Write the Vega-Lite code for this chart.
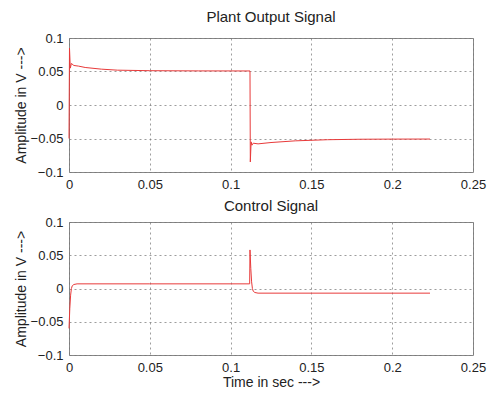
{
  "$schema": "https://vega.github.io/schema/vega-lite/v6.json",
  "padding": {"left": 13, "top": 9, "right": 10, "bottom": 5},
  "background": "white",
  "spacing": 6,
  "datasets": {
    "plant": [
      {"t": 0, "v": -0.05}, {"t": 0.0003, "v": 0.085}, {"t": 0.0008, "v": 0.055}, {"t": 0.0015, "v": 0.062},
      {"t": 0.003, "v": 0.059}, {"t": 0.006, "v": 0.058}, {"t": 0.01, "v": 0.056}, {"t": 0.02, "v": 0.0535},
      {"t": 0.03, "v": 0.052}, {"t": 0.05, "v": 0.0512}, {"t": 0.08, "v": 0.0509}, {"t": 0.112, "v": 0.0508},
      {"t": 0.1122, "v": -0.085}, {"t": 0.1127, "v": -0.055}, {"t": 0.1132, "v": -0.06}, {"t": 0.114, "v": -0.057},
      {"t": 0.117, "v": -0.058}, {"t": 0.125, "v": -0.056}, {"t": 0.14, "v": -0.0535}, {"t": 0.16, "v": -0.0518},
      {"t": 0.18, "v": -0.0511}, {"t": 0.2, "v": -0.0509}, {"t": 0.2234, "v": -0.0508}
    ],
    "control": [
      {"t": 0, "v": -0.06}, {"t": 0.0005, "v": -0.03}, {"t": 0.001, "v": -0.01}, {"t": 0.0015, "v": 0.0},
      {"t": 0.002, "v": 0.004}, {"t": 0.003, "v": 0.006}, {"t": 0.005, "v": 0.007}, {"t": 0.05, "v": 0.007},
      {"t": 0.1118, "v": 0.007}, {"t": 0.112, "v": 0.058}, {"t": 0.1125, "v": 0.03}, {"t": 0.113, "v": 0.01},
      {"t": 0.1135, "v": 0.0}, {"t": 0.114, "v": -0.004}, {"t": 0.115, "v": -0.006}, {"t": 0.117, "v": -0.007},
      {"t": 0.2234, "v": -0.007}
    ]
  },
  "config": {
    "font": "Liberation Sans",
    "view": {"stroke": "#888888", "strokeWidth": 1},
    "axis": {
      "labelFont": "Liberation Sans", "labelFontSize": 13, "labelColor": "#222", "format": "~g",
      "titleFont": "Liberation Sans", "titleFontSize": 14, "titleFontWeight": "normal", "titleColor": "#222",
      "domain": false, "ticks": false, "gridColor": "#777", "gridDash": [2, 3], "gridWidth": 0.8, "gridOpacity": 0.9
    },
    "title": {"font": "Liberation Sans", "fontSize": 15, "fontWeight": "normal", "color": "#222", "offset": 7}
  },
  "vconcat": [
    {
      "title": "Plant Output Signal",
      "width": 404, "height": 134,
      "data": {"name": "plant"},
      "mark": {"type": "line", "color": "#e83a3a", "strokeWidth": 1},
      "encoding": {
        "x": {"field": "t", "type": "quantitative", "scale": {"domain": [0, 0.25], "nice": false},
              "axis": {"values": [0, 0.05, 0.1, 0.15, 0.2, 0.25], "title": null, "labelPadding": 6, "labelFlush": false}},
        "y": {"field": "v", "type": "quantitative", "scale": {"domain": [-0.1, 0.1], "nice": false},
              "axis": {"values": [-0.1, -0.05, 0, 0.05, 0.1], "title": "Amplitude in V --->", "labelPadding": 6, "labelFlush": false, "titlePadding": 2}}
      }
    },
    {
      "title": {"text": "Control Signal", "offset": 2},
      "width": 404, "height": 133,
      "data": {"name": "control"},
      "mark": {"type": "line", "color": "#e83a3a", "strokeWidth": 1},
      "encoding": {
        "x": {"field": "t", "type": "quantitative", "scale": {"domain": [0, 0.25], "nice": false},
              "axis": {"values": [0, 0.05, 0.1, 0.15, 0.2, 0.25], "title": "Time in sec --->", "labelPadding": 6, "labelFlush": false, "titlePadding": 1}},
        "y": {"field": "v", "type": "quantitative", "scale": {"domain": [-0.1, 0.1], "nice": false},
              "axis": {"values": [-0.1, -0.05, 0, 0.05, 0.1], "title": "Amplitude in V --->", "labelPadding": 6, "labelFlush": false, "titlePadding": 2}}
      }
    }
  ]
}
